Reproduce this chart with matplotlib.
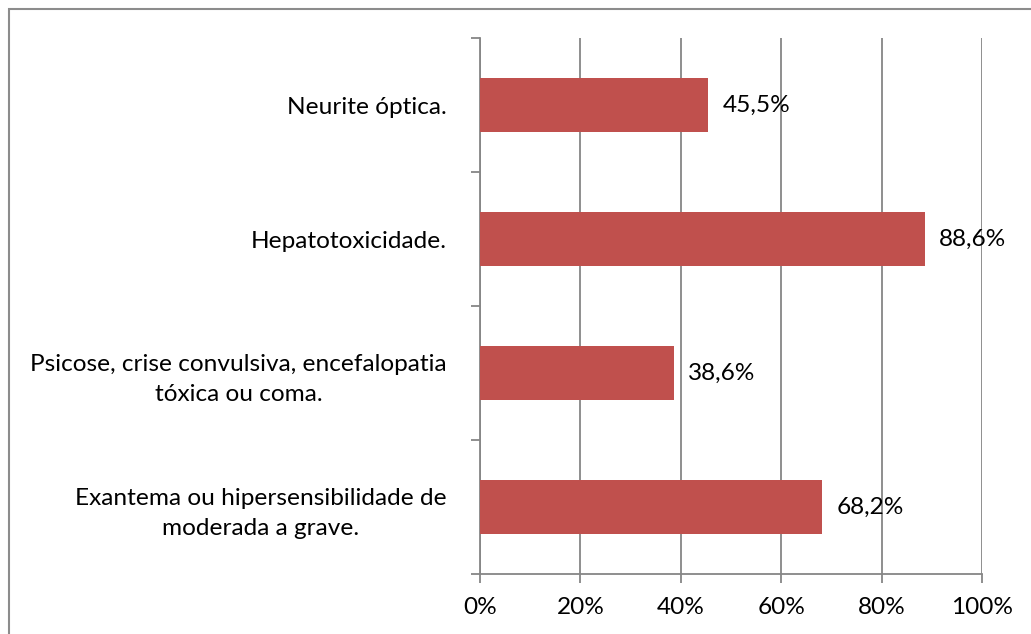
import matplotlib.pyplot as plt
from matplotlib.patches import Rectangle

categories = [
    "Exantema ou hipersensibilidade de\nmoderada a grave.",
    "Psicose, crise convulsiva, encefalopatia\ntóxica ou coma.",
    "Hepatotoxicidade.",
    "Neurite óptica.",
]
values = [68.2, 38.6, 88.6, 45.5]
value_labels = ["68,2%", "38,6%", "88,6%", "45,5%"]
xticks = [0, 20, 40, 60, 80, 100]
xtick_labels = ["0%", "20%", "40%", "60%", "80%", "100%"]

bar_color = "#C0504D"
grid_color = "#868686"
font = ["Lato", "DejaVu Sans"]
fs = 17.6

fig = plt.figure(figsize=(10.31, 6.34), dpi=100)
W, H = 1031, 634
ax = fig.add_axes([480 / W, 1 - 574 / H, (982 - 480) / W, (574 - 38) / H])

# outer chart border
fig.patches.append(Rectangle((9 / W, -0.1), 1.2, 1 - 9 / H + 0.1, transform=fig.transFigure,
                             fill=False, edgecolor="#8c8c8c", linewidth=1.5))

pos = list(range(len(categories)))
bars = ax.barh(pos, values, height=0.4, color=bar_color, zorder=3)

for bar, lab in zip(bars, value_labels):
    ax.text(bar.get_width() + 2.8, bar.get_y() + bar.get_height() / 2, lab,
            va="center", ha="left", fontsize=fs, family=font, zorder=4)

ax.set_xlim(0, 100)
ax.set_ylim(-0.5, len(categories) - 0.5)
ax.set_xticks(xticks)
ax.set_xticklabels(xtick_labels, fontsize=fs, family=font)
ax.xaxis.grid(True, color=grid_color, linewidth=1.3, zorder=0)

ax.set_yticks(pos)
ax.set_yticklabels(categories, fontsize=fs, family=font, multialignment="center",
                   linespacing=1.55)
ax.set_yticks([p - 0.5 for p in pos] + [len(pos) - 0.5], minor=True)
ax.tick_params(axis="y", which="major", length=0, pad=24)
ax.tick_params(axis="y", which="minor", length=6.5, width=1.3, color=grid_color, direction="out")
ax.tick_params(axis="x", length=6.5, width=1.3, color=grid_color, direction="out", pad=10)

for side in ["top", "right"]:
    ax.spines[side].set_visible(False)
for side in ["left", "bottom"]:
    ax.spines[side].set_color(grid_color)
    ax.spines[side].set_linewidth(1.3)

fig.savefig("out.png", dpi=100)
